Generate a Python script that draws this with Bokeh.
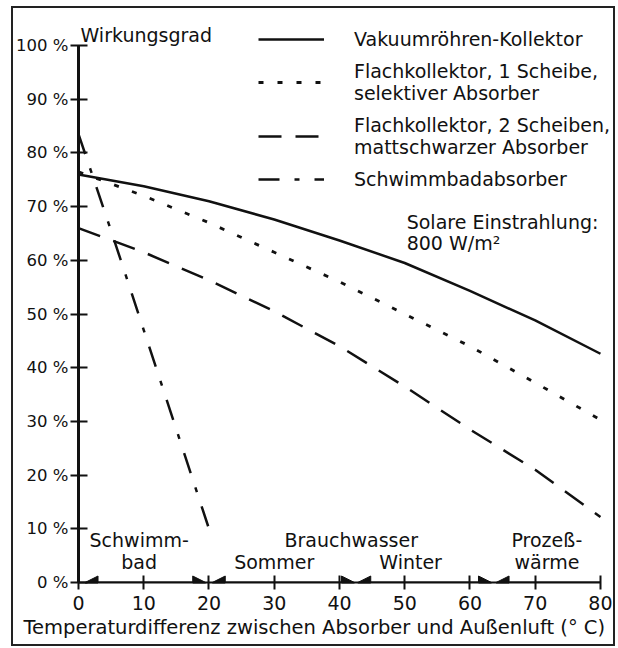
from bokeh.plotting import figure
from bokeh.models import (Range1d, FixedTicker, PrintfTickFormatter, Legend, LegendItem,
                          Label, Arrow, NormalHead, ColumnDataSource, Title)
from bokeh.embed import file_html
from bokeh.resources import INLINE

# ---- data ----
temp_diff = [0, 10, 20, 30, 40, 50, 60, 70, 80]
vakuum = [76.0, 73.8, 71.0, 67.6, 63.7, 59.5, 54.3, 48.8, 42.6]
flach_1 = [76.5, 72.0, 67.0, 61.5, 56.0, 50.0, 44.0, 37.2, 30.3]
flach_2 = [66.0, 61.5, 56.3, 50.5, 44.0, 36.5, 28.5, 21.0, 12.2]
schwimm_x = [0, 5, 10, 15, 20]
schwimm = [83.5, 65.5, 47.0, 28.5, 10.0]

y_ticks = [0, 10, 20, 30, 40, 50, 60, 70, 80, 90, 100]
x_ticks = [0, 10, 20, 30, 40, 50, 60, 70, 80]

series_names = ["Vakuumröhren-Kollektor",
                "Flachkollektor, 1 Scheibe,\nselektiver Absorber",
                "Flachkollektor, 2 Scheiben,\nmattschwarzer Absorber",
                "Schwimmbadabsorber"]

# usage ranges on the temperature axis
range_start = [1.0, 20.5, 42.8]
range_end = [19.5, 42.3, 63.3]
last_range = [64.0, 80.0]
range_labels = ["Schwimm-\nbad", "Brauchwasser", "Sommer", "Winter", "Prozeß-\nwärme"]
range_label_x = [9.3, 41.8, 30.0, 50.9, 71.8]
range_label_y = [9.9, 9.9, 5.8, 5.8, 9.9]

FONT = "DejaVu Sans"
INK = "#111111"
FS = "19px"

p = figure(width=600, height=636, output_backend="svg", toolbar_location=None,
           x_range=Range1d(0, 82.0), y_range=Range1d(0, 106.15),
           min_border_left=63, min_border_right=0, min_border_top=4, min_border_bottom=62)
p.margin = (8, 2, 2, 13)
p.styles = {"outline": "2px solid #222222", "outline-offset": "0px"}
p.grid.visible = False
p.outline_line_color = None
p.background_fill_color = "white"
p.border_fill_color = "white"

# axes
xa = p.xaxis[0]
ya = p.yaxis[0]
xa.ticker = FixedTicker(ticks=x_ticks)
ya.ticker = FixedTicker(ticks=y_ticks)
ya.formatter = PrintfTickFormatter(format="%d %%")
xa.bounds = (0, 80)
ya.bounds = (0, 100)
for ax in (xa, ya):
    ax.major_label_text_font = FONT
    ax.major_label_text_color = INK
    ax.axis_line_color = INK
    ax.major_tick_line_color = INK
    ax.minor_tick_line_color = None
xa.major_label_text_font_size = FS
ya.major_label_text_font_size = "16.5px"
ya.axis_line_width = 3
ya.major_tick_line_width = 2
ya.major_tick_in = 9
ya.major_tick_out = 8
ya.major_label_standoff = 2
xa.axis_line_width = 2
xa.major_tick_line_width = 2
xa.major_tick_in = 7
xa.major_tick_out = 7
xa.major_label_standoff = 6

p.add_layout(Title(text="Temperaturdifferenz zwischen Absorber und Außenluft (° C)",
                   text_font=FONT, text_font_size="19.5px", text_font_style="normal",
                   text_color=INK, align="left", offset=-55, standoff=3), "below")

# curves
r_vak = p.line(temp_diff, vakuum, line_color=INK, line_width=2.5)
r_f1 = p.line(temp_diff, flach_1, line_color=INK, line_width=2.8, line_dash="5 14")
r_f2 = p.line(temp_diff, flach_2, line_color=INK, line_width=2.5, line_dash="23 14")
r_sw = p.line(schwimm_x, schwimm, line_color=INK, line_width=2.5, line_dash="21 15 5 15")

legend = Legend(items=[LegendItem(label=n, renderers=[r]) for n, r in
                       zip(series_names, [r_vak, r_f1, r_f2, r_sw])],
                location=(180, 392), glyph_width=66, glyph_height=16,
                label_standoff=30, spacing=10, padding=0, margin=0,
                border_line_color=None, background_fill_alpha=0,
                label_text_font=FONT, label_text_font_size=FS, label_text_color=INK,
                label_text_line_height=0.85)
p.add_layout(legend)

# usage range arrows along the x axis
src = ColumnDataSource(data=dict(x0=range_start, x1=range_end, y=[0, 0, 0]))
p.add_layout(Arrow(source=src, x_start="x0", x_end="x1", y_start="y", y_end="y",
                   line_color=INK, line_width=2,
                   start=NormalHead(size=13, fill_color=INK, line_color=INK),
                   end=NormalHead(size=13, fill_color=INK, line_color=INK)))
p.add_layout(Arrow(x_start=last_range[1], x_end=last_range[0], y_start=0, y_end=0,
                   line_color=INK, line_width=2,
                   end=NormalHead(size=13, fill_color=INK, line_color=INK)))

for t, x, y in zip(range_labels, range_label_x, range_label_y):
    p.add_layout(Label(x=x, y=y, text=t, text_font=FONT, text_font_size=FS,
                       text_color=INK, text_align="center", text_baseline="top",
                       text_line_height=0.97))

# annotations inside the plot frame are clipped to it, so this label starts at the axis
p.add_layout(Label(x=0, y=102.0, x_offset=2, text="Wirkungsgrad", text_font=FONT,
                   text_font_size=FS, text_color=INK, text_baseline="alphabetic"))
p.add_layout(Label(x=50.3, y=69.1, text="Solare Einstrahlung:\n800 W/m²", text_font=FONT,
                   text_font_size=FS, text_color=INK, text_baseline="top",
                   text_line_height=0.93))

open("out.html", "w").write(file_html(p, INLINE))
